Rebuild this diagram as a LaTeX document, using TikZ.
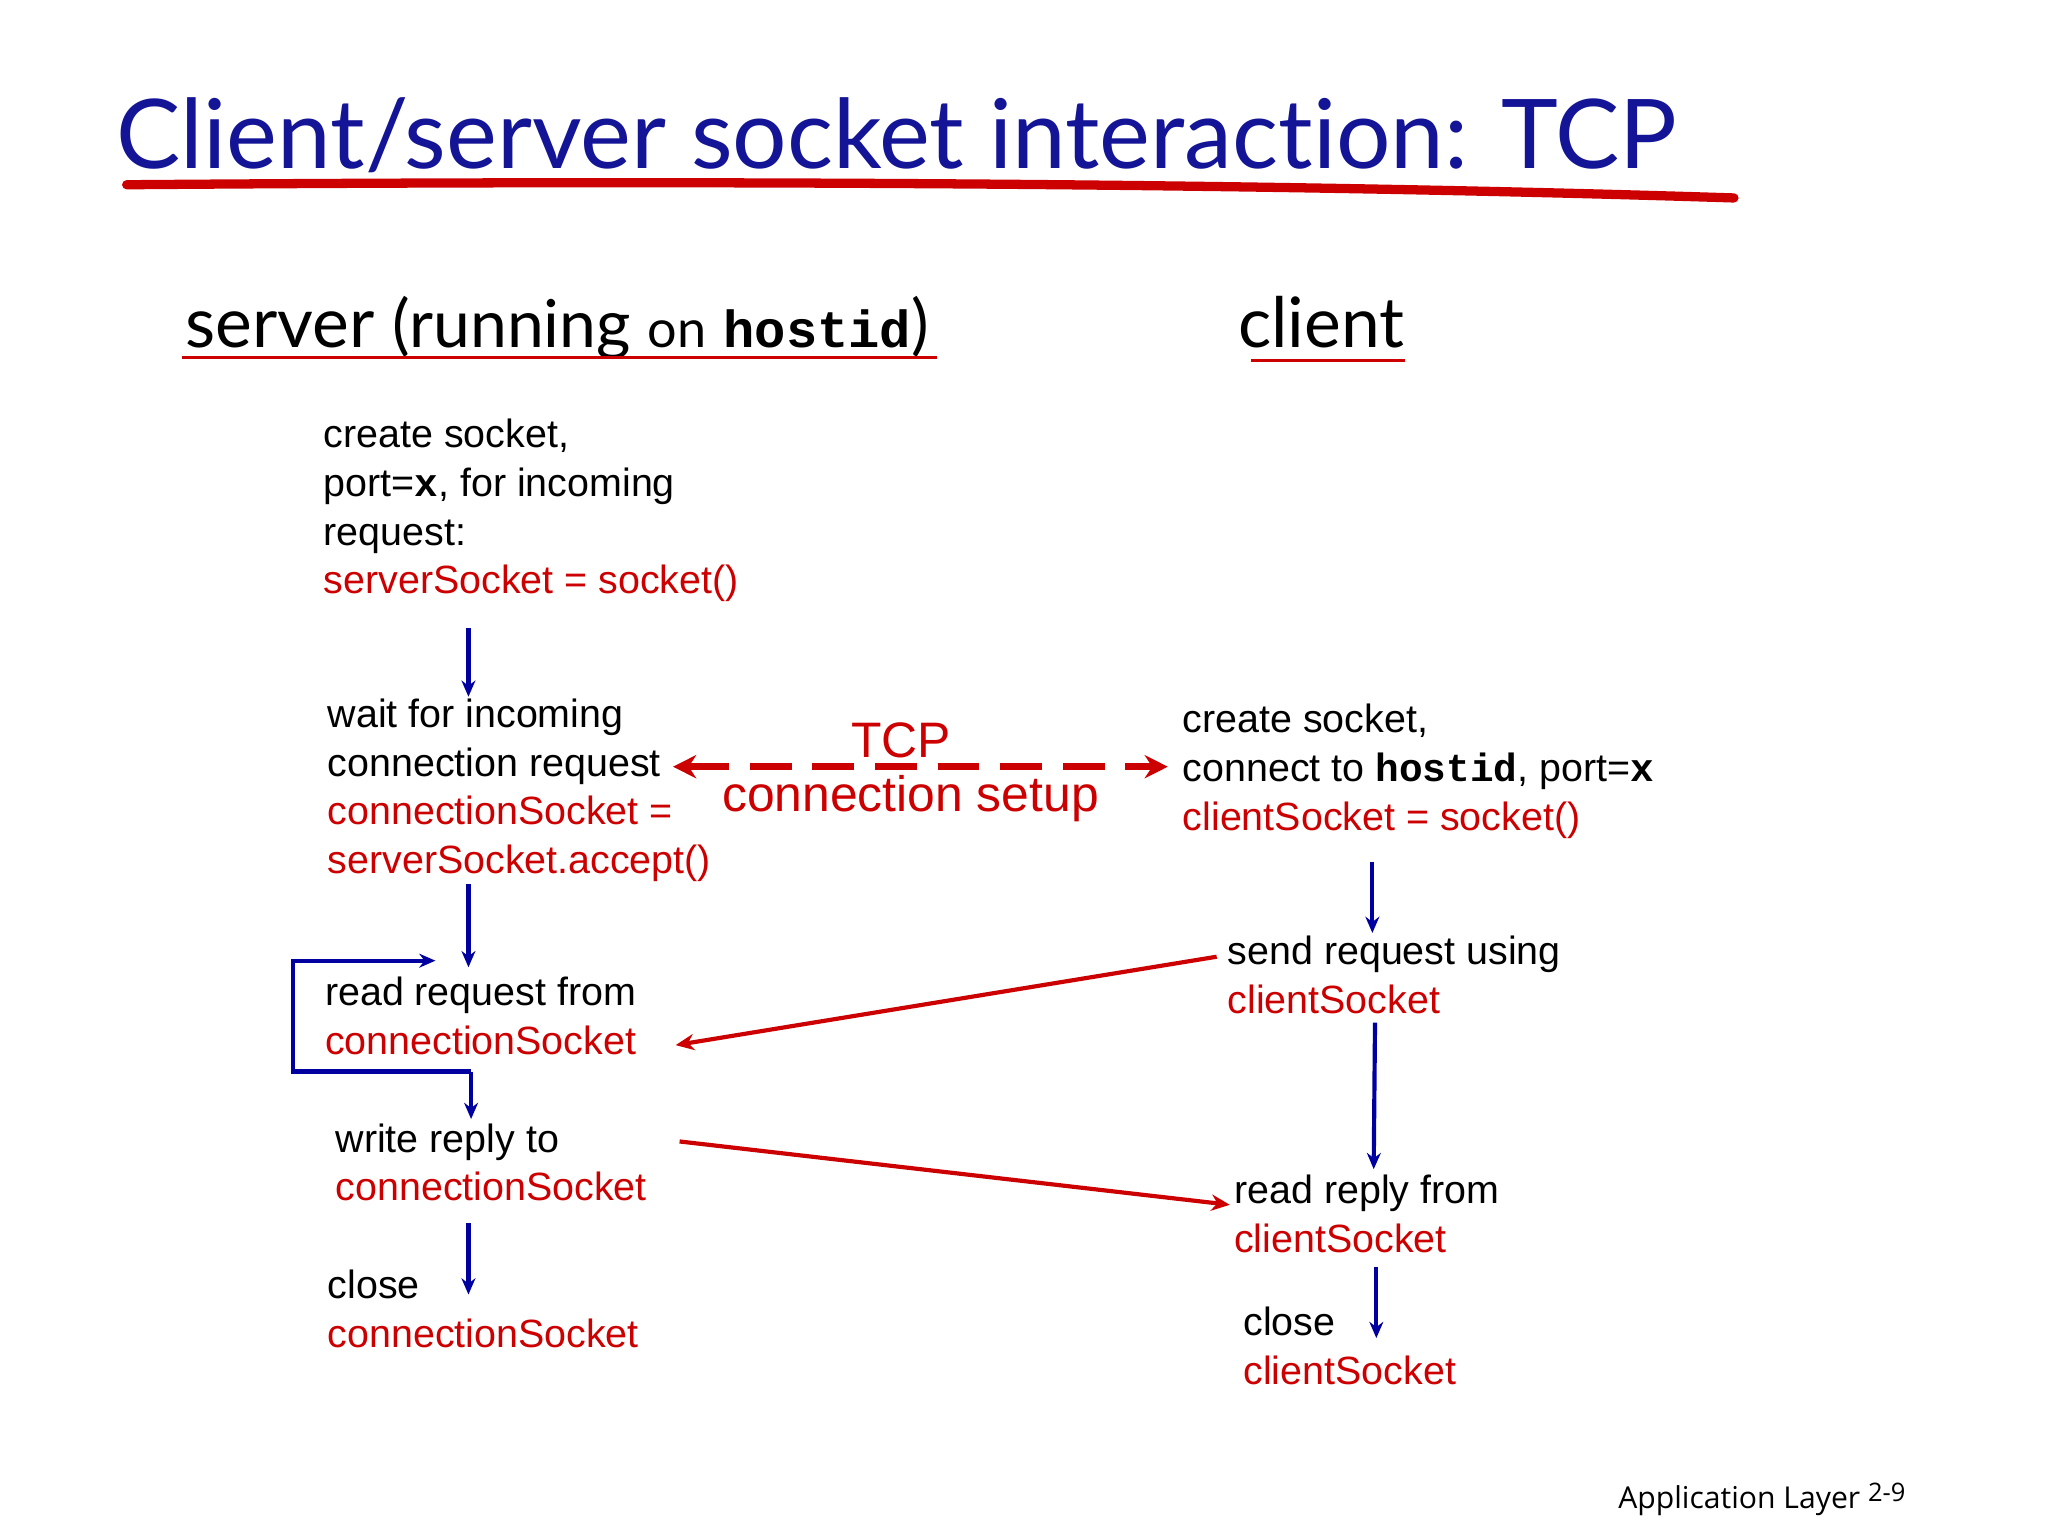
\documentclass[tikz,border=0pt]{standalone}
\usepackage{fontspec}
\setmainfont{Liberation Sans}
\newfontfamily\titlef[Ligatures={NoCommon}]{Lato}
\newfontfamily\footf{Open Sans}
\newfontfamily\codef{Liberation Mono}
\usetikzlibrary{arrows.meta}
\definecolor{tblue}{RGB}{20,20,150}
\definecolor{ared}{RGB}{204,0,0}
\definecolor{ablue}{RGB}{0,0,160}
\newcommand{\cd}[1]{{\codef\bfseries #1}}
\begin{document}
\begin{tikzpicture}[x={(0.02cm,0)},y={(0,-0.02cm)},
  txt/.style={anchor=base west,align=left,inner sep=0,font=\fontsize{17}{21}\selectfont},
  barrow/.style={draw=ablue,line width=1.8pt,-{Stealth[length=7pt,width=6pt]}},
  rarrow/.style={draw=ared,line width=1.8pt,-{Stealth[length=8pt,width=7pt]}}]
\useasboundingbox (0,0) rectangle (1552,1164);
% title
\node[anchor=base west,inner sep=0,text=tblue,font=\titlef\fontsize{41.5}{48}\selectfont] (title) at (88,128) {Client/server socket interaction: TCP};
\draw[ared,line width=4pt,line cap=round] (96,140) .. controls (600,136) and (1000,140) .. (1314,150);
% headers
\node[anchor=base west,inner sep=0,font=\titlef\fontsize{30}{34}\selectfont] (srv) at (140,263) {server {\fontsize{28.5}{31}\selectfont(running {\fontsize{22.5}{24}\selectfont on} {\codef\bfseries\fontsize{22.5}{24}\selectfont hostid})}};
\draw[ared,line width=1.5pt] (138,271) -- (710,271);
\node[anchor=base west,inner sep=0,font=\titlef\fontsize{30}{34}\selectfont] (cli) at (938,263) {client};
\draw[ared,line width=1.5pt] (948,273) -- (1065,273);
% server blocks
\node[txt] (s1) at (245,450) {create socket,\\port=\cd{x}, for incoming\\request:\\\textcolor{ared}{serverSocket = socket()}};
\node[txt] (s2) at (248,662) {wait for incoming\\connection request\\\textcolor{ared}{connectionSocket =}\\\textcolor{ared}{serverSocket.accept()}};
\node[txt] (s3) at (246,799) {read request from\\\textcolor{ared}{connectionSocket}};
\node[txt] (s4) at (254,910) {write reply to\\\textcolor{ared}{connectionSocket}};
\node[txt] (s5) at (248,1021) {close\\\textcolor{ared}{connectionSocket}};
% client blocks
\node[txt] (c1) at (896,629) {create socket,\\connect to \cd{hostid}, port=\cd{x}\\\textcolor{ared}{clientSocket = socket()}};
\node[txt] (c2) at (930,768) {send request using\\\textcolor{ared}{clientSocket}};
\node[txt] (c3) at (935,949) {read reply from\\\textcolor{ared}{clientSocket}};
\node[txt] (c4) at (942,1049) {close\\\textcolor{ared}{clientSocket}};
% TCP setup
\node[anchor=base,inner sep=0,text=ared,font=\fontsize{21.5}{24}\selectfont] (tcp) at (683,574) {TCP};
\node[anchor=base,inner sep=0,text=ared,font=\fontsize{21.5}{24}\selectfont] (cs) at (690,615) {connection setup};
\coordinate (dl) at (510,581); \coordinate (dr) at (885,581);
\draw[draw=ared,line width=3pt,dash pattern=on 18pt off 9pt,{Stealth[length=10pt,width=10pt]}-{Stealth[length=10pt,width=10pt]}] (dl) -- (dr);
% blue arrows
\coordinate (a1) at (355,476); \coordinate (a1e) at (355,528);
\draw[barrow] (a1) -- (a1e);
\coordinate (a2) at (355,670); \coordinate (a2e) at (355,733);
\draw[barrow] (a2) -- (a2e);
\coordinate (l0) at (357,812); \coordinate (l1) at (222,812); \coordinate (l2) at (222,728); \coordinate (l3) at (330,728);
\draw[barrow] (l0) -- (l1) -- (l2) -- (l3);
\coordinate (a3e) at (357,848);
\draw[barrow] (l0) -- (a3e);
\coordinate (a4) at (355,927); \coordinate (a4e) at (355,981);
\draw[barrow] (a4) -- (a4e);
\coordinate (b1) at (1040,653); \coordinate (b1e) at (1040,707);
\draw[barrow] (b1) -- (b1e);
\coordinate (b2) at (1042,775); \coordinate (b2e) at (1041,886);
\draw[barrow] (b2) -- (b2e);
\coordinate (b3) at (1043,960); \coordinate (b3e) at (1043,1014);
\draw[barrow] (b3) -- (b3e);
% red arrows
\coordinate (r1) at (922,725); \coordinate (r1e) at (512,792);
\draw[rarrow] (r1) -- (r1e);
\coordinate (r2) at (515,865); \coordinate (r2e) at (932,913);
\draw[rarrow] (r2) -- (r2e);
% footer
\node[anchor=base west,inner sep=0,font=\footf\fontsize{13}{15}\selectfont] (foot) at (1226,1143) {Application Layer \raisebox{3pt}{\fontsize{11}{12}\selectfont 2-9}};
\end{tikzpicture}
\end{document}
